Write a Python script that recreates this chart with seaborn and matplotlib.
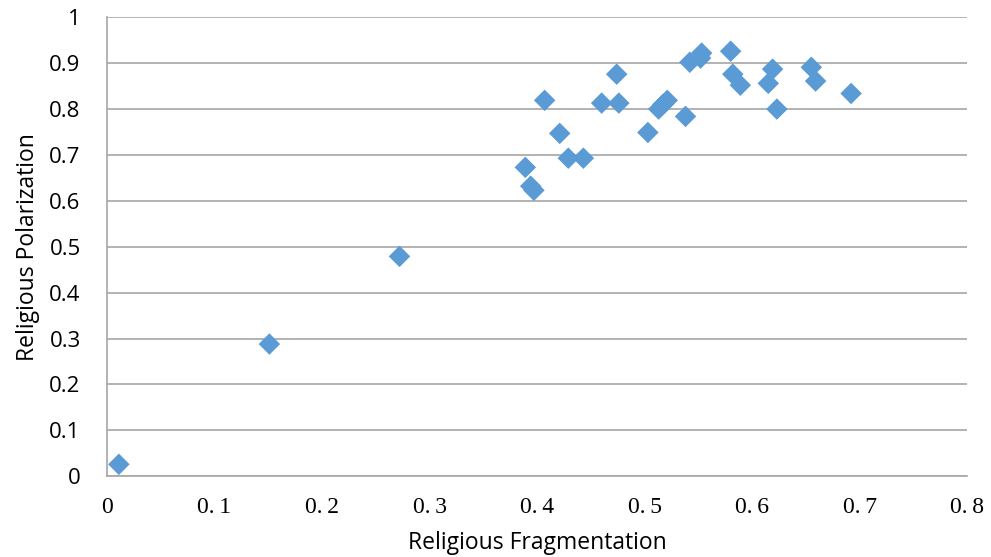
import matplotlib
matplotlib.use("Agg")
import matplotlib.pyplot as plt
import seaborn as sns
import pandas as pd

fragmentation = [0.011, 0.151, 0.272, 0.389, 0.394, 0.397, 0.407, 0.421, 0.429, 0.443,
                 0.460, 0.474, 0.476, 0.503, 0.513, 0.517, 0.521, 0.538, 0.542, 0.552,
                 0.553, 0.580, 0.582, 0.589, 0.615, 0.619, 0.623, 0.655, 0.659, 0.692]
polarization = [0.026, 0.288, 0.479, 0.673, 0.632, 0.623, 0.819, 0.747, 0.693, 0.693,
                0.813, 0.876, 0.813, 0.749, 0.800, 0.810, 0.819, 0.784, 0.902, 0.911,
                0.922, 0.926, 0.876, 0.852, 0.856, 0.887, 0.800, 0.891, 0.861, 0.834]
x_ticks = [0, 0.1, 0.2, 0.3, 0.4, 0.5, 0.6, 0.7, 0.8]
x_tick_labels = ["0", "0.\u20091", "0.\u20092", "0.\u20093", "0.\u20094",
                 "0.\u20095", "0.\u20096", "0.\u20097", "0.\u20098"]
y_ticks = [0, 0.1, 0.2, 0.3, 0.4, 0.5, 0.6, 0.7, 0.8, 0.9, 1]
y_tick_labels = ["0", "0.1", "0.2", "0.3", "0.4", "0.5", "0.6", "0.7", "0.8", "0.9", "1"]

df = pd.DataFrame({"Religious Fragmentation": fragmentation,
                   "Religious Polarization": polarization})

sns.set_theme(style="white")
plt.rcParams['font.family'] = ['Open Sans', 'DejaVu Sans']

fig = plt.figure(figsize=(9.91, 5.57), dpi=100)
ax = fig.add_axes([0.108, 0.145, 0.868, 0.824])

sns.scatterplot(data=df, x="Religious Fragmentation", y="Religious Polarization",
                marker="D", s=120, color="#5B9BD5", edgecolor="none", ax=ax, zorder=3)

ax.set_xlim(0, 0.8)
ax.set_ylim(0, 1)
ax.set_xticks(x_ticks)
ax.set_xticklabels(x_tick_labels, family=["Liberation Serif", "DejaVu Serif"], fontsize=17)
ax.set_yticks(y_ticks)
ax.set_yticklabels(y_tick_labels, fontsize=16)
ax.tick_params(axis="both", length=0, colors="black")
ax.tick_params(axis="y", pad=19)
ax.tick_params(axis="x", pad=15)

ax.yaxis.grid(True, color="#A6A6A6", linewidth=1.2)
ax.xaxis.grid(False)
for side in ["top", "right"]:
    ax.spines[side].set_visible(False)
for side in ["left", "bottom"]:
    ax.spines[side].set_color("#A6A6A6")
    ax.spines[side].set_linewidth(1.2)

ax.set_xlabel("Religious Fragmentation", fontsize=16.5, labelpad=9, color="black")
ax.set_ylabel("Religious Polarization", fontsize=16.5, labelpad=7, color="black")

fig.savefig("out.png", dpi=100)
